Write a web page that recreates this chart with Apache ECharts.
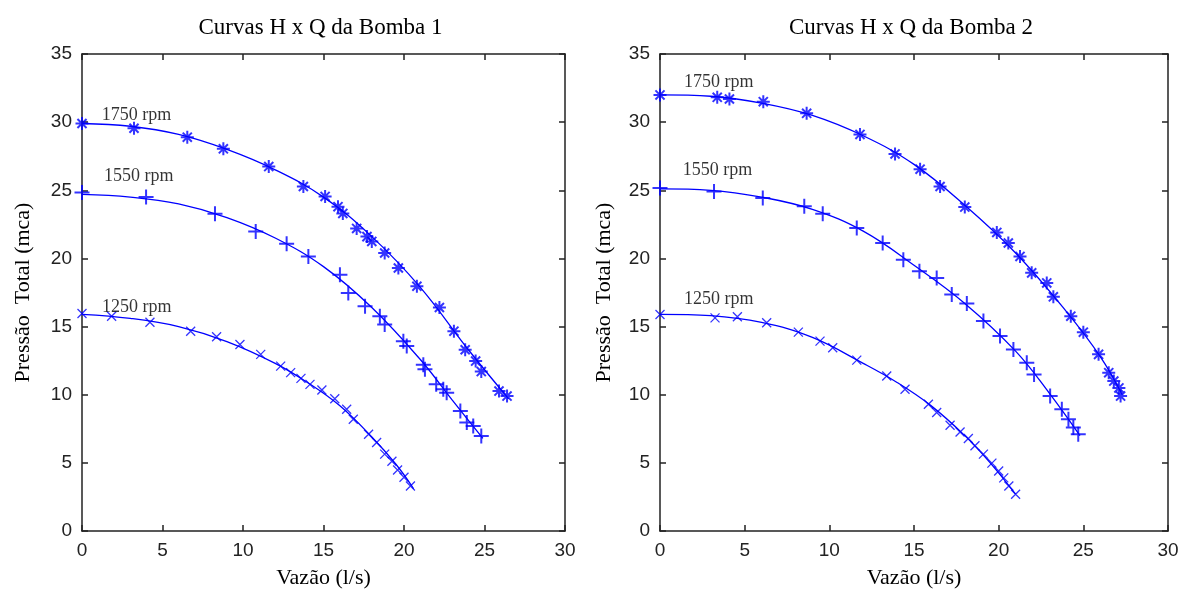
<!DOCTYPE html>
<html><head><meta charset="utf-8">
<script src="https://cdn.jsdelivr.net/npm/echarts@6/dist/echarts.min.js"></script>
<style>html,body{margin:0;padding:0;background:#fff}#c{width:1183px;height:594px}</style>
</head><body><div id="c"></div>
<script>
// Titles and axis texts
const titles = ['Curvas H x Q da Bomba 1', 'Curvas H x Q da Bomba 2'];
const xName = 'Vazão (l/s)';
const yName = 'Pressão  Total (mca)';
const rpmNames = ['1750 rpm', '1550 rpm', '1250 rpm'];
const xTicks = [0, 5, 10, 15, 20, 25, 30];
const yTicks = [0, 5, 10, 15, 20, 25, 30, 35];

// Bomba 1 measured points [Q, H]
const b1_1750 = [[0,29.9],[3.23,29.55],[6.54,28.9],[8.78,28.04],[11.6,26.74],[13.75,25.28],[15.1,24.55],[15.9,23.8],[16.2,23.3],[17.06,22.2],[17.7,21.6],[18.0,21.25],[18.8,20.4],[19.65,19.3],[20.8,17.96],[22.2,16.4],[23.1,14.66],[23.8,13.3],[24.45,12.47],[24.8,11.7],[25.9,10.27],[26.4,9.9]];
const b1_1550 = [[0,24.84],[3.98,24.5],[8.26,23.28],[10.79,21.98],[12.71,21.08],[14.06,20.15],[16.02,18.8],[16.54,17.47],[17.58,16.5],[18.5,15.76],[18.8,15.15],[19.96,13.93],[20.17,13.57],[21.2,12.2],[21.3,11.86],[22.0,10.76],[22.44,10.4],[22.65,10.15],[23.5,8.8],[23.9,7.96],[24.3,7.7],[24.8,6.97]];
const b1_1250 = [[0,15.96],[1.84,15.76],[4.22,15.32],[6.75,14.66],[8.36,14.25],[9.81,13.69],[11.1,12.96],[12.34,12.1],[12.96,11.62],[13.6,11.2],[14.16,10.76],[14.9,10.34],[15.7,9.71],[16.44,8.93],[16.85,8.2],[17.8,7.1],[18.3,6.49],[18.8,5.64],[19.25,5.12],[19.6,4.47],[20.0,3.95],[20.4,3.3]];
// Bomba 1 fitted curves
const b1_fit1750 = [[0,29.9],[3,29.7],[6,29.1],[9,28.0],[12,26.5],[15,24.5],[18,21.6],[21,17.9],[24,13.3],[26.5,9.7]];
const b1_fit1550 = [[0,24.7],[3,24.5],[6,24.0],[9,23.0],[12,21.5],[15,19.4],[18,16.4],[21,12.6],[23,9.6],[24.9,6.8]];
const b1_fit1250 = [[0,15.9],[3,15.6],[6,15.0],[9,13.9],[12,12.3],[14,10.9],[16,9.2],[18,6.9],[19.5,4.9],[20.6,3.1]];

// Bomba 2 measured points [Q, H]
const b2_1750 = [[0,32.0],[3.38,31.82],[4.1,31.7],[6.1,31.5],[8.66,30.65],[11.81,29.1],[13.88,27.67],[15.36,26.55],[16.54,25.28],[18.0,23.77],[19.89,21.91],[20.57,21.13],[21.26,20.15],[21.95,18.94],[22.84,18.2],[23.23,17.18],[24.26,15.76],[25.0,14.59],[25.9,12.96],[26.5,11.62],[26.8,11.0],[27.1,10.5],[27.2,9.9]];
const b2_1550 = [[0,25.16],[3.19,24.92],[6.07,24.43],[8.52,23.82],[9.61,23.28],[11.62,22.23],[13.15,21.13],[14.37,19.91],[15.32,19.06],[16.34,18.57],[17.23,17.35],[18.12,16.69],[19.1,15.4],[20.08,14.3],[20.87,13.32],[21.66,12.35],[22.09,11.49],[23.04,9.9],[23.73,8.93],[24.12,8.2],[24.41,7.59],[24.7,7.1]];
const b2_1250 = [[0,15.89],[3.25,15.64],[4.57,15.72],[6.3,15.28],[8.17,14.59],[9.45,13.93],[10.2,13.45],[11.62,12.54],[13.39,11.37],[14.47,10.4],[15.85,9.3],[16.34,8.69],[17.13,7.76],[17.72,7.27],[18.21,6.79],[18.6,6.25],[19.1,5.64],[19.6,4.98],[20.0,4.4],[20.3,3.9],[20.6,3.3],[21.0,2.7]];
// Bomba 2 fitted curves
const b2_fit1750 = [[0,32.0],[3,31.9],[6,31.4],[9,30.5],[12,29.0],[15,26.9],[18,23.9],[21,20.4],[24,16.1],[26,12.8],[27.3,10.0]];
const b2_fit1550 = [[0,25.1],[3,25.0],[6,24.5],[9,23.6],[12,22.0],[15,19.5],[18,16.7],[21,13.2],[23,10.1],[24.8,7.0]];
const b2_fit1250 = [[0,15.9],[3,15.8],[6,15.3],[9,14.2],[12,12.3],[14,10.9],[16,9.2],[18,7.0],[19.5,5.0],[21,2.7]];

// rpm label anchor points [Q, H]
const b1_labelPos = [[1.22,30.5],[1.37,26.0],[1.24,16.4]];
const b2_labelPos = [[1.42,32.9],[1.34,26.5],[1.42,17.0]];

const BLUE = '#0000ff';
const SERIF = 'Liberation Serif';
const SANS = 'Liberation Sans';
const symAst = 'path://M5,0L5,10M0,5L10,5M1.5,1.5L8.5,8.5M1.5,8.5L8.5,1.5';
const symPlus = 'path://M5,0L5,10M0,5L10,5';
const symX = 'path://M0,0L10,10M0,10L10,0';

const grids = [
  {left: 82, top: 54, width: 483, height: 478},
  {left: 660, top: 54, width: 508, height: 478}
];
const nameGaps = [48, 45];

const xAxes = [], yAxes = [];
grids.forEach((g, i) => {
  const common = {
    gridIndex: i, type: 'value', min: 0, interval: 5,
    axisLine: {show: true, onZero: false, lineStyle: {color: '#222', width: 1.5}},
    axisTick: {show: true, inside: true, length: 6, lineStyle: {color: '#222', width: 1.5}},
    splitLine: {show: false}
  };
  xAxes.push(Object.assign({}, common, {
    position: 'bottom', max: 30,
    axisLabel: {show: true, fontFamily: SANS, fontSize: 19, color: '#222', margin: 10,
      formatter: v => xTicks.includes(v) ? String(v) : ''},
    name: xName, nameLocation: 'middle', nameGap: 36,
    nameTextStyle: {fontFamily: SERIF, fontSize: 22, color: '#000'}
  }));
  xAxes.push(Object.assign({}, common, {position: 'top', max: 30, axisLabel: {show: false}}));
  yAxes.push(Object.assign({}, common, {
    position: 'left', max: 35,
    axisLabel: {show: true, fontFamily: SANS, fontSize: 19, color: '#222', margin: 10,
      formatter: v => yTicks.includes(v) ? String(v) : ''},
    name: yName, nameLocation: 'middle', nameGap: nameGaps[i],
    nameTextStyle: {fontFamily: SERIF, fontSize: 22, color: '#000'}
  }));
  yAxes.push(Object.assign({}, common, {position: 'right', max: 35, axisLabel: {show: false}}));
});

function fitSeries(data, gi) {
  return {type: 'line', xAxisIndex: gi * 2, yAxisIndex: gi * 2, data: data,
    smooth: 0.4, showSymbol: false, symbol: 'none',
    lineStyle: {color: BLUE, width: 1.3}, silent: true, z: 2};
}
function ptSeries(data, gi, sym, size, bw) {
  return {type: 'scatter', xAxisIndex: gi * 2, yAxisIndex: gi * 2, data: data,
    symbol: sym, symbolSize: size,
    itemStyle: {color: BLUE, borderColor: BLUE, borderWidth: bw}, z: 3};
}
function labelSeries(pos, gi) {
  return {type: 'scatter', xAxisIndex: gi * 2, yAxisIndex: gi * 2,
    data: pos.map((p, k) => [p[0], p[1], rpmNames[k]]),
    symbolSize: 0, z: 4,
    label: {show: true, position: 'right', distance: 0, formatter: p => p.data[2],
      fontFamily: SERIF, fontSize: 18, color: '#000'}};
}

const series = [
  fitSeries(b1_fit1750, 0), fitSeries(b1_fit1550, 0), fitSeries(b1_fit1250, 0),
  ptSeries(b1_1750, 0, symAst, 13, 2), ptSeries(b1_1550, 0, symPlus, 15, 2), ptSeries(b1_1250, 0, symX, 9, 1.3),
  labelSeries(b1_labelPos, 0),
  fitSeries(b2_fit1750, 1), fitSeries(b2_fit1550, 1), fitSeries(b2_fit1250, 1),
  ptSeries(b2_1750, 1, symAst, 13, 2), ptSeries(b2_1550, 1, symPlus, 15, 2), ptSeries(b2_1250, 1, symX, 9, 1.3),
  labelSeries(b2_labelPos, 1)
];

const chart = echarts.init(document.getElementById('c'), null, {renderer: 'canvas'});
chart.setOption({
  animation: false,
  backgroundColor: '#fff',
  title: [
    {text: titles[0], left: 82 + 483 / 2 - 8, top: 11, textAlign: 'center',
      textStyle: {fontFamily: SERIF, fontSize: 23, fontWeight: 'normal', color: '#000'}},
    {text: titles[1], left: 660 + 508 / 2 - 8, top: 11, textAlign: 'center',
      textStyle: {fontFamily: SERIF, fontSize: 23, fontWeight: 'normal', color: '#000'}}
  ],
  grid: grids,
  xAxis: xAxes,
  yAxis: yAxes,
  series: series
});
</script></body></html>
